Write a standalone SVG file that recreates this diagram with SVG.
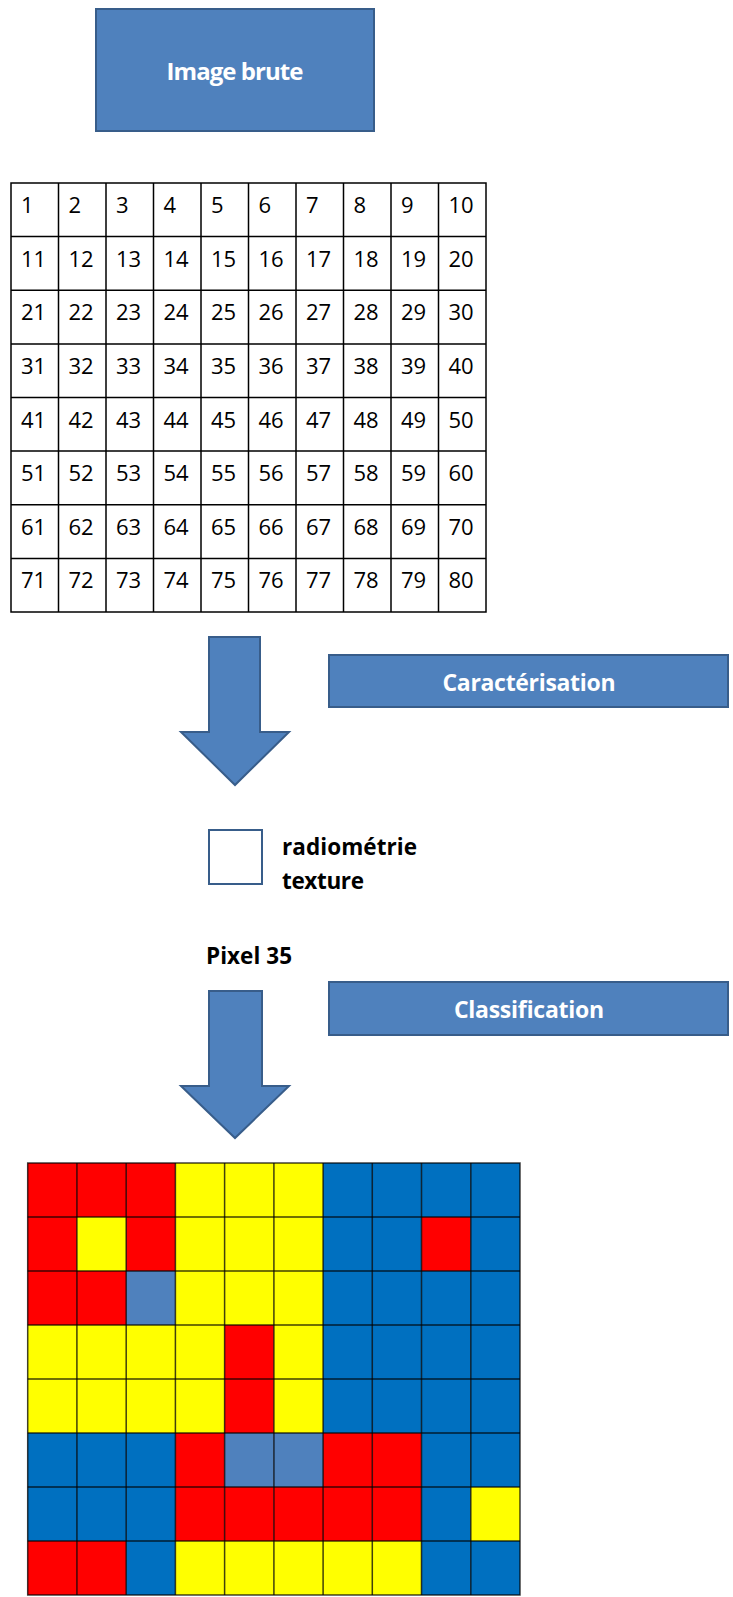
<svg xmlns="http://www.w3.org/2000/svg" width="733" height="1597" viewBox="0 0 733 1597">
<style>
.box{fill:#4F81BD;stroke:#385D8A;stroke-width:2}
.lbl{font-family:"Open Sans","Liberation Sans",sans-serif;font-weight:bold;fill:#fff;text-anchor:middle}
.num{font-family:"Open Sans","Liberation Sans",sans-serif;font-size:22px;fill:#000}
.blk{font-family:"Open Sans","Liberation Sans",sans-serif;font-weight:bold;font-size:22.5px;fill:#000}
.arrow{fill:#4F81BD;stroke:#385D8A;stroke-width:2;stroke-linejoin:miter}
.R{fill:#FF0000}.Y{fill:#FFFF00}.B{fill:#0070C0}.L{fill:#4F81BD}
</style>
<rect width="733" height="1597" fill="#fff"/>

<g id="image-brute">
<rect class="box" x="96" y="9" width="278" height="122"/>
<text class="lbl" x="235" y="80" font-size="24" textLength="137">Image brute</text>
</g>

<g id="pixel-table">
<g fill="none" stroke="#000" stroke-width="1.5">
<rect x="11" y="183" width="475" height="429"/>
<path d="M58.5 183V612M106 183V612M153.5 183V612M201 183V612M248.5 183V612M296 183V612M343.5 183V612M391 183V612M438.5 183V612"/>
<path d="M11 236.6H486M11 290.3H486M11 343.9H486M11 397.5H486M11 451.1H486M11 504.8H486M11 558.4H486"/>
</g>
<g class="num">
<text x="21" y="213">1</text><text x="68.5" y="213">2</text><text x="116" y="213">3</text><text x="163.5" y="213">4</text><text x="211" y="213">5</text><text x="258.5" y="213">6</text><text x="306" y="213">7</text><text x="353.5" y="213">8</text><text x="401" y="213">9</text><text x="448.5" y="213">10</text>
<text x="21" y="266.6">11</text><text x="68.5" y="266.6">12</text><text x="116" y="266.6">13</text><text x="163.5" y="266.6">14</text><text x="211" y="266.6">15</text><text x="258.5" y="266.6">16</text><text x="306" y="266.6">17</text><text x="353.5" y="266.6">18</text><text x="401" y="266.6">19</text><text x="448.5" y="266.6">20</text>
<text x="21" y="320.3">21</text><text x="68.5" y="320.3">22</text><text x="116" y="320.3">23</text><text x="163.5" y="320.3">24</text><text x="211" y="320.3">25</text><text x="258.5" y="320.3">26</text><text x="306" y="320.3">27</text><text x="353.5" y="320.3">28</text><text x="401" y="320.3">29</text><text x="448.5" y="320.3">30</text>
<text x="21" y="373.9">31</text><text x="68.5" y="373.9">32</text><text x="116" y="373.9">33</text><text x="163.5" y="373.9">34</text><text x="211" y="373.9">35</text><text x="258.5" y="373.9">36</text><text x="306" y="373.9">37</text><text x="353.5" y="373.9">38</text><text x="401" y="373.9">39</text><text x="448.5" y="373.9">40</text>
<text x="21" y="427.5">41</text><text x="68.5" y="427.5">42</text><text x="116" y="427.5">43</text><text x="163.5" y="427.5">44</text><text x="211" y="427.5">45</text><text x="258.5" y="427.5">46</text><text x="306" y="427.5">47</text><text x="353.5" y="427.5">48</text><text x="401" y="427.5">49</text><text x="448.5" y="427.5">50</text>
<text x="21" y="481.1">51</text><text x="68.5" y="481.1">52</text><text x="116" y="481.1">53</text><text x="163.5" y="481.1">54</text><text x="211" y="481.1">55</text><text x="258.5" y="481.1">56</text><text x="306" y="481.1">57</text><text x="353.5" y="481.1">58</text><text x="401" y="481.1">59</text><text x="448.5" y="481.1">60</text>
<text x="21" y="534.8">61</text><text x="68.5" y="534.8">62</text><text x="116" y="534.8">63</text><text x="163.5" y="534.8">64</text><text x="211" y="534.8">65</text><text x="258.5" y="534.8">66</text><text x="306" y="534.8">67</text><text x="353.5" y="534.8">68</text><text x="401" y="534.8">69</text><text x="448.5" y="534.8">70</text>
<text x="21" y="588.4">71</text><text x="68.5" y="588.4">72</text><text x="116" y="588.4">73</text><text x="163.5" y="588.4">74</text><text x="211" y="588.4">75</text><text x="258.5" y="588.4">76</text><text x="306" y="588.4">77</text><text x="353.5" y="588.4">78</text><text x="401" y="588.4">79</text><text x="448.5" y="588.4">80</text>
</g>
</g>

<g id="connectors">
<path id="arrow1" class="arrow" d="M209 637H260V732H289L235 785L181 732H209Z"/>
<path id="arrow2" class="arrow" d="M209 991H262V1086H289L235 1138L181 1086H209Z"/>
</g>

<g id="caracterisation">
<rect class="box" x="329" y="655" width="399" height="52"/>
<text class="lbl" x="529" y="691" font-size="23" textLength="173">Caractérisation</text>
</g>

<g id="pixel35">
<rect x="209" y="830" width="53" height="54" fill="#fff" stroke="#385D8A" stroke-width="2"/>
<text class="blk" x="282" y="855" textLength="135">radiométrie</text>
<text class="blk" x="282" y="889" textLength="82">texture</text>
<text class="blk" x="206" y="964" textLength="86">Pixel 35</text>
</g>

<g id="classification">
<rect class="box" x="329" y="982" width="399" height="53"/>
<text class="lbl" x="529" y="1018" font-size="23" textLength="150">Classification</text>
</g>

<g id="classified-image">
<g>
<rect class="R" x="27.7" y="1163" width="49.2" height="54"/><rect class="R" x="76.9" y="1163" width="49.2" height="54"/><rect class="R" x="126.2" y="1163" width="49.2" height="54"/><rect class="Y" x="175.4" y="1163" width="49.2" height="54"/><rect class="Y" x="224.6" y="1163" width="49.2" height="54"/><rect class="Y" x="273.9" y="1163" width="49.2" height="54"/><rect class="B" x="323.1" y="1163" width="49.2" height="54"/><rect class="B" x="372.3" y="1163" width="49.2" height="54"/><rect class="B" x="421.5" y="1163" width="49.2" height="54"/><rect class="B" x="470.8" y="1163" width="49.2" height="54"/>
<rect class="R" x="27.7" y="1217" width="49.2" height="54"/><rect class="Y" x="76.9" y="1217" width="49.2" height="54"/><rect class="R" x="126.2" y="1217" width="49.2" height="54"/><rect class="Y" x="175.4" y="1217" width="49.2" height="54"/><rect class="Y" x="224.6" y="1217" width="49.2" height="54"/><rect class="Y" x="273.9" y="1217" width="49.2" height="54"/><rect class="B" x="323.1" y="1217" width="49.2" height="54"/><rect class="B" x="372.3" y="1217" width="49.2" height="54"/><rect class="R" x="421.5" y="1217" width="49.2" height="54"/><rect class="B" x="470.8" y="1217" width="49.2" height="54"/>
<rect class="R" x="27.7" y="1271" width="49.2" height="54"/><rect class="R" x="76.9" y="1271" width="49.2" height="54"/><rect class="L" x="126.2" y="1271" width="49.2" height="54"/><rect class="Y" x="175.4" y="1271" width="49.2" height="54"/><rect class="Y" x="224.6" y="1271" width="49.2" height="54"/><rect class="Y" x="273.9" y="1271" width="49.2" height="54"/><rect class="B" x="323.1" y="1271" width="49.2" height="54"/><rect class="B" x="372.3" y="1271" width="49.2" height="54"/><rect class="B" x="421.5" y="1271" width="49.2" height="54"/><rect class="B" x="470.8" y="1271" width="49.2" height="54"/>
<rect class="Y" x="27.7" y="1325" width="49.2" height="54"/><rect class="Y" x="76.9" y="1325" width="49.2" height="54"/><rect class="Y" x="126.2" y="1325" width="49.2" height="54"/><rect class="Y" x="175.4" y="1325" width="49.2" height="54"/><rect class="R" x="224.6" y="1325" width="49.2" height="54"/><rect class="Y" x="273.9" y="1325" width="49.2" height="54"/><rect class="B" x="323.1" y="1325" width="49.2" height="54"/><rect class="B" x="372.3" y="1325" width="49.2" height="54"/><rect class="B" x="421.5" y="1325" width="49.2" height="54"/><rect class="B" x="470.8" y="1325" width="49.2" height="54"/>
<rect class="Y" x="27.7" y="1379" width="49.2" height="54"/><rect class="Y" x="76.9" y="1379" width="49.2" height="54"/><rect class="Y" x="126.2" y="1379" width="49.2" height="54"/><rect class="Y" x="175.4" y="1379" width="49.2" height="54"/><rect class="R" x="224.6" y="1379" width="49.2" height="54"/><rect class="Y" x="273.9" y="1379" width="49.2" height="54"/><rect class="B" x="323.1" y="1379" width="49.2" height="54"/><rect class="B" x="372.3" y="1379" width="49.2" height="54"/><rect class="B" x="421.5" y="1379" width="49.2" height="54"/><rect class="B" x="470.8" y="1379" width="49.2" height="54"/>
<rect class="B" x="27.7" y="1433" width="49.2" height="54"/><rect class="B" x="76.9" y="1433" width="49.2" height="54"/><rect class="B" x="126.2" y="1433" width="49.2" height="54"/><rect class="R" x="175.4" y="1433" width="49.2" height="54"/><rect class="L" x="224.6" y="1433" width="49.2" height="54"/><rect class="L" x="273.9" y="1433" width="49.2" height="54"/><rect class="R" x="323.1" y="1433" width="49.2" height="54"/><rect class="R" x="372.3" y="1433" width="49.2" height="54"/><rect class="B" x="421.5" y="1433" width="49.2" height="54"/><rect class="B" x="470.8" y="1433" width="49.2" height="54"/>
<rect class="B" x="27.7" y="1487" width="49.2" height="54"/><rect class="B" x="76.9" y="1487" width="49.2" height="54"/><rect class="B" x="126.2" y="1487" width="49.2" height="54"/><rect class="R" x="175.4" y="1487" width="49.2" height="54"/><rect class="R" x="224.6" y="1487" width="49.2" height="54"/><rect class="R" x="273.9" y="1487" width="49.2" height="54"/><rect class="R" x="323.1" y="1487" width="49.2" height="54"/><rect class="R" x="372.3" y="1487" width="49.2" height="54"/><rect class="B" x="421.5" y="1487" width="49.2" height="54"/><rect class="Y" x="470.8" y="1487" width="49.2" height="54"/>
<rect class="R" x="27.7" y="1541" width="49.2" height="54"/><rect class="R" x="76.9" y="1541" width="49.2" height="54"/><rect class="B" x="126.2" y="1541" width="49.2" height="54"/><rect class="Y" x="175.4" y="1541" width="49.2" height="54"/><rect class="Y" x="224.6" y="1541" width="49.2" height="54"/><rect class="Y" x="273.9" y="1541" width="49.2" height="54"/><rect class="Y" x="323.1" y="1541" width="49.2" height="54"/><rect class="Y" x="372.3" y="1541" width="49.2" height="54"/><rect class="B" x="421.5" y="1541" width="49.2" height="54"/><rect class="B" x="470.8" y="1541" width="49.2" height="54"/>
</g>
<g fill="none" stroke="#000" stroke-opacity="0.75" stroke-width="1.5">
<rect x="27.7" y="1163" width="492.3" height="432"/>
<path d="M76.9 1163V1595M126.2 1163V1595M175.4 1163V1595M224.6 1163V1595M273.9 1163V1595M323.1 1163V1595M372.3 1163V1595M421.5 1163V1595M470.8 1163V1595"/>
<path d="M27.7 1217H520M27.7 1271H520M27.7 1325H520M27.7 1379H520M27.7 1433H520M27.7 1487H520M27.7 1541H520"/>
</g>
</g>
</svg>
